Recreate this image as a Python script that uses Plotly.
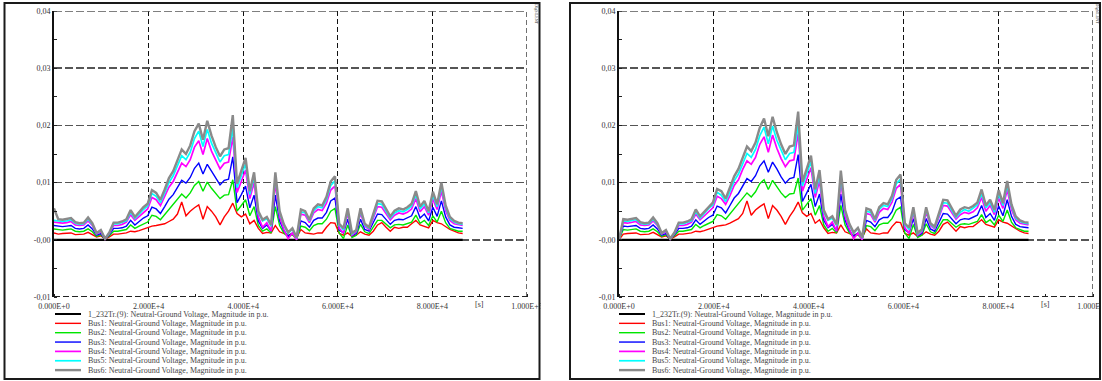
import plotly.graph_objects as go

W, H = 1102, 381

# ---------------- data ----------------
t = list(range(0, 86401, 900))          # time grid [s]
tr_t = [0, 86400]                        # 1_232Tr.(9)
tr_v = [0.0, 0.0]

# left panel
bus1_a = [.0012,.0010,.0011,.0012,.0012,.0009,.0010,.0010,.0013,.0009,
          .0005,.0007,.0001,.0005,.0010,.0010,.0011,.0012,.0015,.0014,
          .0016,.0019,.0021,.0024,.0025,.0026,.0028,.0032,.0036,.0045,
          .0066,.0042,.0050,.0056,.0061,.0036,.0058,.0050,.0040,.0026,
          .0040,.0050,.0064,.0046,.0040,.0045,.0028,.0034,.0020,.0011,
          .0013,.0012,.0025,.0014,.0011,.0008,.0011,.0004,.0018,.0012,
          .0011,.0010,.0012,.0012,.0022,.0030,.0029,.0011,.0008,.0012,
          .0006,.0008,.0014,.0010,.0008,.0015,.0026,.0030,.0022,.0015,
          .0022,.0020,.0022,.0022,.0028,.0034,.0026,.0024,.0021,.0034,
          .0030,.0028,.0023,.0018,.0015,.0012,.0011]
bus2_a = [.0019,.0018,.0017,.0018,.0019,.0015,.0014,.0015,.0019,.0014,
          .0006,.0009,.0001,.0007,.0015,.0015,.0016,.0018,.0026,.0020,
          .0024,.0028,.0031,.0043,.0041,.0035,.0044,.0053,.0060,.0069,
          .0080,.0073,.0082,.0095,.0102,.0085,.0101,.0090,.0080,.0072,
          .0078,.0079,.0105,.0050,.0060,.0070,.0042,.0058,.0025,.0015,
          .0019,.0012,.0058,.0025,.0012,.0005,.0009,.0001,.0024,.0022,
          .0016,.0025,.0028,.0028,.0036,.0050,.0055,.0012,.0002,.0026,
          .0004,.0008,.0027,.0014,.0011,.0023,.0034,.0034,.0027,.0021,
          .0026,.0027,.0026,.0028,.0031,.0043,.0029,.0034,.0025,.0042,
          .0031,.0050,.0030,.0020,.0017,.0015,.0015]
bus3_a = [.0025,.0024,.0023,.0024,.0025,.0020,.0019,.0020,.0026,.0019,
          .0008,.0011,.0001,.0009,.0020,.0020,.0021,.0024,.0034,.0026,
          .0032,.0038,.0042,.0057,.0054,.0046,.0058,.0071,.0079,.0092,
          .0104,.0099,.0109,.0125,.0134,.0115,.0132,.0120,.0107,.0096,
          .0104,.0106,.0145,.0065,.0079,.0094,.0056,.0078,.0033,.0020,
          .0026,.0015,.0078,.0033,.0016,.0006,.0012,.0002,.0033,.0030,
          .0022,.0034,.0038,.0038,.0048,.0068,.0073,.0017,.0012,.0036,
          .0007,.0011,.0036,.0018,.0015,.0030,.0045,.0044,.0036,.0027,
          .0034,.0036,.0035,.0038,.0042,.0058,.0038,.0045,.0033,.0057,
          .0041,.0068,.0040,.0026,.0022,.0021,.0020]
bus4_a = [.0031,.0030,.0029,.0030,.0032,.0026,.0025,.0026,.0033,.0025,
          .0010,.0014,.0001,.0011,.0025,.0025,.0027,.0031,.0044,.0034,
          .0041,.0048,.0054,.0074,.0070,.0060,.0075,.0092,.0102,.0119,
          .0134,.0128,.0140,.0162,.0173,.0149,.0177,.0155,.0138,.0124,
          .0134,.0136,.0180,.0083,.0102,.0122,.0072,.0100,.0040,.0022,
          .0030,.0015,.0100,.0040,.0018,.0002,.0012,.0000,.0045,.0043,
          .0030,.0047,.0053,.0051,.0064,.0087,.0094,.0020,.0012,.0047,
          .0008,.0014,.0047,.0024,.0018,.0039,.0058,.0057,.0046,.0035,
          .0043,.0047,.0045,.0048,.0054,.0072,.0049,.0058,.0043,.0071,
          .0053,.0085,.0051,.0034,.0028,.0026,.0025]
bus5_a = [.0034,.0033,.0032,.0033,.0035,.0029,.0027,.0028,.0036,.0027,
          .0011,.0016,.0002,.0012,.0028,.0028,.0030,.0033,.0048,.0037,
          .0045,.0053,.0059,.0081,.0076,.0065,.0082,.0100,.0112,.0130,
          .0147,.0140,.0153,.0177,.0190,.0163,.0193,.0169,.0151,.0136,
          .0147,.0149,.0195,.0091,.0112,.0133,.0079,.0110,.0047,.0033,
          .0037,.0024,.0110,.0047,.0025,.0011,.0019,.0003,.0049,.0047,
          .0033,.0051,.0058,.0056,.0070,.0095,.0103,.0026,.0017,.0051,
          .0010,.0016,.0051,.0026,.0020,.0043,.0063,.0062,.0050,.0038,
          .0047,.0051,.0049,.0053,.0059,.0079,.0054,.0063,.0047,.0078,
          .0058,.0093,.0056,.0037,.0031,.0028,.0027]
bus6_a = [.0055,.0036,.0035,.0036,.0038,.0031,.0029,.0030,.0039,.0029,
          .0012,.0017,.0002,.0013,.0030,.0030,.0032,.0036,.0052,.0040,
          .0048,.0057,.0063,.0087,.0082,.0070,.0088,.0108,.0120,.0140,
          .0158,.0150,.0165,.0190,.0203,.0175,.0208,.0182,.0162,.0146,
          .0158,.0160,.0218,.0098,.0120,.0143,.0085,.0118,.0050,.0035,
          .0040,.0026,.0118,.0050,.0027,.0013,.0020,.0004,.0053,.0050,
          .0035,.0055,.0062,.0060,.0075,.0102,.0111,.0028,.0020,.0055,
          .0012,.0017,.0055,.0028,.0022,.0046,.0068,.0067,.0054,.0041,
          .0051,.0055,.0053,.0057,.0063,.0085,.0058,.0068,.0050,.0084,
          .0062,.0100,.0060,.0040,.0033,.0030,.0029]

# right panel
bus1_b = [.0000,.0010,.0011,.0012,.0012,.0009,.0010,.0010,.0013,.0009,
          .0005,.0007,.0001,.0005,.0010,.0010,.0011,.0012,.0015,.0014,
          .0016,.0019,.0021,.0024,.0025,.0026,.0029,.0033,.0037,.0046,
          .0068,.0043,.0052,.0058,.0063,.0037,.0060,.0052,.0041,.0027,
          .0041,.0052,.0066,.0047,.0041,.0046,.0029,.0035,.0021,.0011,
          .0013,.0012,.0026,.0014,.0011,.0008,.0011,.0004,.0019,.0012,
          .0011,.0010,.0012,.0012,.0023,.0031,.0030,.0011,.0008,.0012,
          .0006,.0008,.0014,.0010,.0008,.0015,.0027,.0031,.0023,.0015,
          .0023,.0021,.0023,.0023,.0029,.0035,.0027,.0025,.0022,.0035,
          .0031,.0029,.0024,.0019,.0015,.0012,.0011]
bus2_b = [.0000,.0018,.0017,.0018,.0019,.0015,.0014,.0015,.0019,.0014,
          .0006,.0009,.0001,.0007,.0015,.0015,.0016,.0018,.0027,.0021,
          .0025,.0029,.0032,.0044,.0042,.0036,.0045,.0055,.0062,.0071,
          .0082,.0075,.0084,.0098,.0105,.0088,.0104,.0093,.0082,.0074,
          .0080,.0081,.0108,.0052,.0062,.0072,.0043,.0060,.0026,.0015,
          .0020,.0012,.0060,.0026,.0012,.0005,.0009,.0001,.0025,.0023,
          .0016,.0026,.0029,.0029,.0037,.0052,.0057,.0012,.0002,.0027,
          .0004,.0008,.0028,.0014,.0011,.0024,.0035,.0035,.0028,.0022,
          .0027,.0028,.0027,.0029,.0032,.0044,.0030,.0035,.0026,.0043,
          .0032,.0052,.0031,.0021,.0018,.0015,.0015]
bus3_b = [.0000,.0024,.0023,.0024,.0025,.0020,.0019,.0020,.0026,.0019,
          .0008,.0011,.0001,.0009,.0020,.0020,.0021,.0024,.0035,.0027,
          .0033,.0039,.0043,.0059,.0056,.0047,.0060,.0073,.0081,.0095,
          .0107,.0102,.0112,.0129,.0138,.0118,.0136,.0124,.0110,.0099,
          .0107,.0109,.0149,.0067,.0081,.0097,.0058,.0080,.0034,.0021,
          .0027,.0015,.0080,.0034,.0016,.0006,.0012,.0002,.0034,.0031,
          .0023,.0035,.0039,.0039,.0049,.0070,.0075,.0018,.0012,.0037,
          .0007,.0011,.0037,.0019,.0015,.0031,.0046,.0045,.0037,.0028,
          .0035,.0037,.0036,.0039,.0043,.0060,.0039,.0046,.0034,.0059,
          .0042,.0070,.0041,.0027,.0023,.0022,.0021]
bus4_b = [.0000,.0030,.0029,.0030,.0032,.0026,.0025,.0026,.0033,.0025,
          .0010,.0014,.0001,.0011,.0025,.0025,.0027,.0031,.0045,.0035,
          .0042,.0049,.0056,.0076,.0072,.0062,.0077,.0095,.0105,.0123,
          .0138,.0132,.0144,.0167,.0180,.0153,.0183,.0160,.0142,.0128,
          .0138,.0140,.0186,.0085,.0105,.0126,.0074,.0103,.0041,.0023,
          .0031,.0015,.0103,.0041,.0019,.0002,.0012,.0000,.0046,.0044,
          .0031,.0048,.0055,.0053,.0066,.0090,.0097,.0021,.0012,.0048,
          .0008,.0014,.0048,.0025,.0019,.0040,.0060,.0059,.0047,.0036,
          .0044,.0048,.0046,.0049,.0056,.0074,.0050,.0060,.0044,.0073,
          .0055,.0088,.0053,.0035,.0029,.0027,.0026]
bus5_b = [.0000,.0033,.0032,.0033,.0035,.0029,.0027,.0028,.0036,.0027,
          .0011,.0016,.0002,.0012,.0028,.0028,.0030,.0033,.0049,.0038,
          .0046,.0055,.0061,.0083,.0078,.0067,.0084,.0103,.0115,.0134,
          .0151,.0144,.0158,.0182,.0197,.0168,.0199,.0174,.0156,.0140,
          .0151,.0153,.0201,.0094,.0115,.0137,.0081,.0113,.0048,.0034,
          .0038,.0025,.0113,.0048,.0026,.0011,.0020,.0003,.0050,.0048,
          .0034,.0053,.0060,.0058,.0072,.0098,.0106,.0027,.0018,.0053,
          .0010,.0016,.0053,.0027,.0021,.0044,.0065,.0064,.0052,.0039,
          .0048,.0053,.0050,.0055,.0061,.0081,.0056,.0065,.0048,.0080,
          .0060,.0096,.0058,.0038,.0032,.0029,.0028]
bus6_b = [.0000,.0036,.0035,.0036,.0038,.0031,.0029,.0030,.0039,.0029,
          .0012,.0017,.0002,.0013,.0030,.0030,.0032,.0036,.0053,.0041,
          .0049,.0058,.0065,.0089,.0085,.0072,.0091,.0111,.0124,.0144,
          .0163,.0155,.0170,.0196,.0212,.0181,.0215,.0188,.0167,.0150,
          .0163,.0165,.0224,.0101,.0124,.0147,.0088,.0122,.0052,.0036,
          .0041,.0027,.0121,.0052,.0028,.0013,.0021,.0004,.0055,.0052,
          .0036,.0057,.0064,.0062,.0077,.0105,.0114,.0029,.0021,.0057,
          .0012,.0018,.0057,.0029,.0023,.0047,.0070,.0069,.0056,.0042,
          .0053,.0057,.0055,.0059,.0065,.0088,.0060,.0070,.0052,.0087,
          .0064,.0103,.0062,.0041,.0034,.0031,.0030]

names = ["1_232Tr.(9): Neutral-Ground Voltage, Magnitude in p.u.",
         "Bus1: Neutral-Ground Voltage, Magnitude in p.u.",
         "Bus2: Neutral-Ground Voltage, Magnitude in p.u.",
         "Bus3: Neutral-Ground Voltage, Magnitude in p.u.",
         "Bus4: Neutral-Ground Voltage, Magnitude in p.u.",
         "Bus5: Neutral-Ground Voltage, Magnitude in p.u.",
         "Bus6: Neutral-Ground Voltage, Magnitude in p.u."]

x_ticks = [0, 20000, 40000, 60000, 80000, 100000]
x_labels = ["0.000E+0", "2.000E+4", "4.000E+4", "6.000E+4", "8.000E+4", "1.000E+5"]
x_range = [0, 100000]
y_ticks = [-0.01, 0.0, 0.01, 0.02, 0.03, 0.04]
y_labels = ["-0,01", "-0,00", "0,01", "0,02", "0,03", "0,04"]
y_range = [-0.01, 0.04]
unit_label = "[s]"
unit_pos = 90000

# ---------------- style ----------------
colors = ["#000000", "#ff0000", "#00e600", "#0000ff", "#ff00ff", "#00ffff", "#8a8a8a"]
widths = [2.2, 1.4, 1.4, 1.4, 1.7, 1.7, 2.4]
FONT = "Liberation Serif"
TXT = "#333333"
HGRID = dict(color="#555555", width=1.6, dash="8px,3px")
VGRID = dict(color="#111111", width=1.2, dash="5px,3px")

def px(x):
    return x / W

def py(y):
    return 1 - y / H

panels = [
    dict(series=[(tr_t, tr_v), (t, bus1_a), (t, bus2_a), (t, bus3_a), (t, bus4_a), (t, bus5_a), (t, bus6_a)],
         xa="x", ya="y", plot=(54, 527), frame=(4.5, 539.5), leg=55),
    dict(series=[(tr_t, tr_v), (t, bus1_b), (t, bus2_b), (t, bus3_b), (t, bus4_b), (t, bus5_b), (t, bus6_b)],
         xa="x2", ya="y2", plot=(619, 1093), frame=(570, 1100), leg=619),
]

PTOP, PBOT = 11, 297

fig = go.Figure()
shapes = []
annotations = []

# white covers to clip the overflowing tick labels at the frame edges
shapes.append(dict(type="rect", xref="paper", yref="paper", layer="above",
                   x0=px(540.5), x1=px(569), y0=py(318), y1=py(298),
                   line=dict(width=0), fillcolor="white"))
shapes.append(dict(type="rect", xref="paper", yref="paper", layer="above",
                   x0=px(1100.5), x1=1, y0=py(318), y1=py(298),
                   line=dict(width=0), fillcolor="white"))

for i, p in enumerate(panels):
    for k, (xs, ys) in enumerate(p["series"]):
        fig.add_trace(go.Scatter(x=xs, y=ys, mode="lines", name=names[k],
                                 xaxis=p["xa"], yaxis=p["ya"], showlegend=False,
                                 hoverinfo="skip",
                                 line=dict(color=colors[k], width=widths[k])))
    sfx = "" if i == 0 else str(i + 1)
    fig.layout["xaxis" + sfx] = dict(
        domain=[px(p["plot"][0]), px(p["plot"][1])], range=x_range, automargin=False,
        anchor="y" + sfx, tickmode="array", tickvals=x_ticks, ticktext=x_labels,
        ticklabeloverflow="allow", ticklabelstandoff=3,
        showgrid=True, gridcolor=VGRID["color"], gridwidth=VGRID["width"], griddash=VGRID["dash"],
        zeroline=False, showline=False, ticks="",
        minor=dict(ticks="inside", dtick=10000, tick0=0, ticklen=3,
                   tickcolor="#222", tickwidth=1, showgrid=False),
        tickfont=dict(family=FONT, size=8, color=TXT), fixedrange=True)
    fig.layout["yaxis" + sfx] = dict(
        domain=[py(PBOT), py(PTOP)], range=y_range, automargin=False,
        anchor="x" + sfx, tickmode="array", tickvals=y_ticks, ticktext=y_labels,
        showgrid=True, gridcolor=HGRID["color"], gridwidth=HGRID["width"], griddash=HGRID["dash"],
        zeroline=False, showline=True, linecolor="#111111", linewidth=2, ticks="",
        minor=dict(ticks="inside", dtick=0.005, tick0=0, ticklen=3,
                   tickcolor="#222", tickwidth=1, showgrid=False),
        tickfont=dict(family=FONT, size=8, color=TXT), fixedrange=True)

    xd, yr = p["xa"] + " domain", p["ya"]
    # boundary grid lines (top, bottom, right) that plotly omits at range edges
    shapes.append(dict(type="line", xref=xd, yref=yr, x0=0, x1=1, y0=y_range[1], y1=y_range[1],
                       line=HGRID, layer="above"))
    shapes.append(dict(type="line", xref=xd, yref=yr, x0=0, x1=1, y0=y_range[0], y1=y_range[0],
                       line=dict(color="#222222", width=1.8, dash="6px,3px"), layer="above"))
    shapes.append(dict(type="line", xref=p["xa"], yref=p["ya"] + " domain", x0=x_range[1], x1=x_range[1],
                       y0=0, y1=1, line=VGRID, layer="above"))

    # unit label
    annotations.append(dict(text=unit_label, xref=p["xa"], yref="paper", x=unit_pos,
                            y=py(304), xanchor="center", yanchor="middle", showarrow=False,
                            font=dict(family=FONT, size=8, color=TXT)))
    # legend
    for k in range(len(names)):
        yy = 314 + 9.35 * k
        shapes.append(dict(type="line", xref="paper", yref="paper",
                           x0=px(p["leg"]), x1=px(p["leg"] + 26), y0=py(yy), y1=py(yy),
                           line=dict(color=colors[k], width=widths[k] if k else 2)))
        annotations.append(dict(text=names[k], xref="paper", yref="paper",
                                x=px(p["leg"] + 30.5), y=py(yy), xanchor="left", yanchor="middle",
                                showarrow=False, font=dict(family=FONT, size=8, color="#474747")))
    # frame
    shapes.append(dict(type="rect", xref="paper", yref="paper", layer="above",
                       x0=px(p["frame"][0]), x1=px(p["frame"][1]), y0=py(379), y1=py(3),
                       line=dict(color="#1a1a1a", width=2), fillcolor="rgba(0,0,0,0)"))
    # small vertical logo text
    annotations.append(dict(text="DIgSILENT", xref="paper", yref="paper",
                            x=px(p["frame"][1] - 3.5), y=py(14), xanchor="center", yanchor="middle",
                            textangle=90, showarrow=False,
                            font=dict(family=FONT, size=4, color="#333")))

fig.update_layout(template="none", width=W, height=H, margin=dict(l=0, r=0, t=0, b=0, pad=0),
                  paper_bgcolor="white", plot_bgcolor="white", hovermode=False,
                  shapes=shapes, annotations=annotations, showlegend=False)

fig.write_html("out.html", config={"displayModeBar": False, "staticPlot": True},
               post_script="document.body.style.margin='0px';document.body.style.overflow='hidden';")
